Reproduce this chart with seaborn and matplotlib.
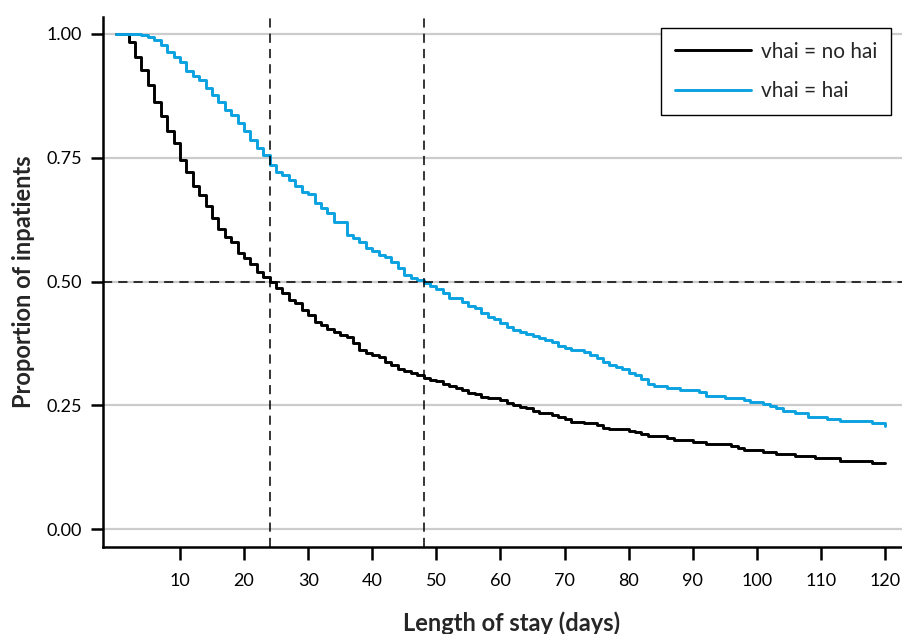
import numpy as np
import pandas as pd
import seaborn as sns
import matplotlib.pyplot as plt

# Kaplan-Meier style curves, one value per day (0..120)
days = list(range(0, 121))

no_hai = [
    1.000, 1.000, 0.983, 0.954, 0.927, 0.896, 0.862, 0.835, 0.803, 0.779,
    0.745, 0.722, 0.692, 0.675, 0.653, 0.628, 0.607, 0.590, 0.580, 0.557,
    0.547, 0.535, 0.520, 0.510, 0.500, 0.486, 0.476, 0.463, 0.456, 0.442,
    0.432, 0.419, 0.412, 0.405, 0.399, 0.392, 0.388, 0.375, 0.362, 0.356,
    0.352, 0.348, 0.338, 0.331, 0.323, 0.320, 0.315, 0.311, 0.306, 0.302,
    0.300, 0.294, 0.289, 0.284, 0.281, 0.275, 0.272, 0.267, 0.264, 0.264,
    0.261, 0.255, 0.251, 0.247, 0.244, 0.239, 0.235, 0.234, 0.230, 0.226,
    0.222, 0.217, 0.217, 0.214, 0.214, 0.210, 0.205, 0.203, 0.203, 0.203,
    0.199, 0.196, 0.193, 0.189, 0.189, 0.189, 0.185, 0.181, 0.181, 0.181,
    0.176, 0.176, 0.172, 0.172, 0.172, 0.172, 0.168, 0.163, 0.160, 0.160,
    0.160, 0.156, 0.156, 0.152, 0.152, 0.152, 0.147, 0.147, 0.147, 0.143,
    0.143, 0.143, 0.143, 0.138, 0.138, 0.138, 0.138, 0.138, 0.134, 0.134,
    0.134,
]

hai = [
    1.000, 1.000, 1.000, 1.000, 0.998, 0.993, 0.988, 0.978, 0.964, 0.954,
    0.944, 0.924, 0.914, 0.907, 0.890, 0.877, 0.863, 0.846, 0.836, 0.820,
    0.803, 0.786, 0.769, 0.756, 0.735, 0.722, 0.715, 0.705, 0.692, 0.681,
    0.677, 0.658, 0.648, 0.638, 0.621, 0.621, 0.594, 0.587, 0.580, 0.567,
    0.562, 0.554, 0.550, 0.540, 0.527, 0.513, 0.508, 0.503, 0.496, 0.491,
    0.484, 0.476, 0.466, 0.466, 0.459, 0.450, 0.446, 0.437, 0.429, 0.424,
    0.416, 0.409, 0.402, 0.399, 0.395, 0.390, 0.385, 0.382, 0.378, 0.370,
    0.365, 0.362, 0.362, 0.358, 0.352, 0.345, 0.338, 0.331, 0.327, 0.323,
    0.316, 0.311, 0.304, 0.294, 0.290, 0.290, 0.285, 0.285, 0.281, 0.281,
    0.281, 0.277, 0.269, 0.269, 0.269, 0.264, 0.264, 0.264, 0.261, 0.257,
    0.257, 0.253, 0.248, 0.244, 0.239, 0.239, 0.235, 0.235, 0.227, 0.227,
    0.227, 0.223, 0.223, 0.219, 0.219, 0.219, 0.219, 0.219, 0.214, 0.214,
    0.209,
]

x_ticks = [10, 20, 30, 40, 50, 60, 70, 80, 90, 100, 110, 120]
y_ticks = [0.0, 0.25, 0.5, 0.75, 1.0]
median_days = [24, 48]

sns.set_theme(style="white")
plt.rcParams["font.family"] = ["Lato", "DejaVu Sans"]

fig = plt.figure(figsize=(9.03, 6.34), dpi=100)
ax = fig.add_axes([103 / 903, 87 / 634, 818 / 903, 530 / 634])

# light grey horizontal gridlines
for yv in y_ticks:
    ax.axhline(yv, color="#cccccc", lw=1.6, zorder=0)

df_no = pd.DataFrame({"days": days, "surv": no_hai})
df_hai = pd.DataFrame({"days": days, "surv": hai})

sns.lineplot(data=df_no, x="days", y="surv", ax=ax, color="black", lw=2.1,
             drawstyle="steps-post", label="vhai = no hai", zorder=3)
sns.lineplot(data=df_hai, x="days", y="surv", ax=ax, color="#0AA2E0", lw=2.1,
             drawstyle="steps-post", label="vhai = hai", zorder=4)

# median reference lines
for d in median_days:
    ax.axvline(d, color="black", lw=1.1, ls=(0, (6, 4)), zorder=5)
ax.axhline(0.5, color="black", lw=1.1, ls=(0, (6, 4)), zorder=5)

ax.set_xlim(-2.0, 125.6)
ax.set_ylim(-0.036, 1.034)
ax.set_xticks(x_ticks)
ax.set_xticklabels([str(t) for t in x_ticks])
ax.set_yticks(y_ticks)
ax.set_yticklabels([f"{t:.2f}" for t in y_ticks])

sns.despine(ax=ax)
for side in ["left", "bottom"]:
    ax.spines[side].set_color("black")
    ax.spines[side].set_linewidth(1.8)

ax.tick_params(axis="x", direction="out", length=9, width=1.8, pad=10,
               labelsize=13, colors="black", bottom=True)
ax.tick_params(axis="y", direction="out", length=9, width=1.8, pad=6,
               labelsize=13, colors="black", left=True)

ax.set_xlabel("Length of stay (days)", fontsize=17, fontweight="bold", labelpad=16)
ax.set_ylabel("Proportion of inpatients", fontsize=17, fontweight="bold", labelpad=8)

leg = ax.legend(loc="upper right", bbox_to_anchor=(891 / 903, 1 - 28 / 634),
                bbox_transform=fig.transFigure, borderaxespad=0, fontsize=15,
                handlelength=3.65, handletextpad=0.5, labelspacing=0.95,
                borderpad=0.65, fancybox=False, framealpha=1)
leg.get_frame().set_edgecolor("black")
leg.get_frame().set_linewidth(1.0)

fig.savefig("out.png", dpi=100)
